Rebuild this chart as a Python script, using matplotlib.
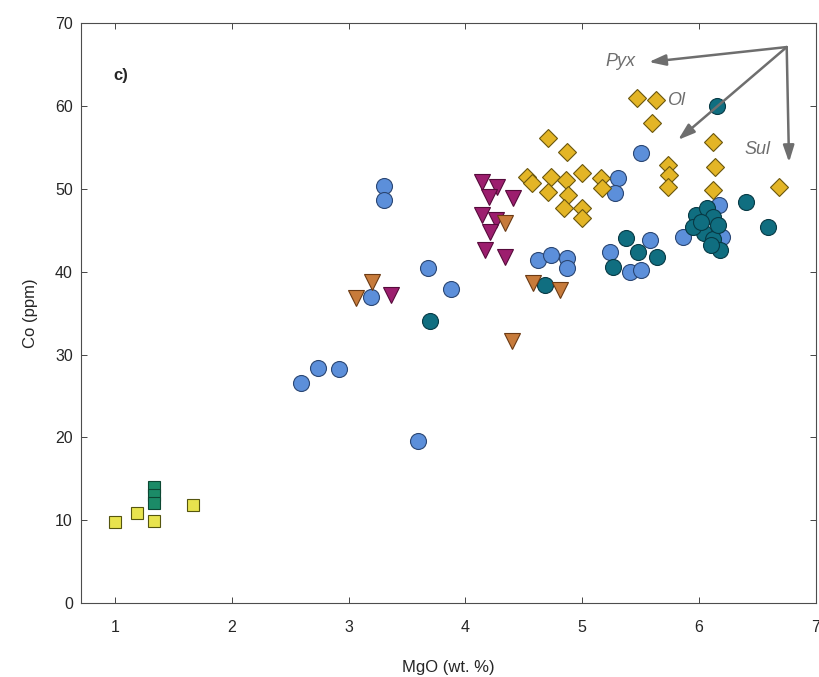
import matplotlib
matplotlib.use("Agg")
import matplotlib.pyplot as plt

plt.rcParams['font.family'] = ['Liberation Sans', 'DejaVu Sans']

# light blue circles
lb_mgo = [2.59, 2.74, 2.92, 3.30, 3.30, 3.19, 3.68, 3.88, 3.59, 5.50, 5.31, 5.28,
          4.62, 4.73, 4.87, 4.87, 5.24, 5.58, 5.41, 5.50, 5.86, 6.20, 6.17]
lb_co = [26.6, 28.4, 28.2, 50.3, 48.6, 36.9, 40.4, 37.9, 19.6, 54.3, 51.3, 49.5,
         41.4, 42.0, 41.6, 40.4, 42.4, 43.8, 40.0, 40.2, 44.2, 44.2, 48.0]

# dark teal circles
dt_mgo = [6.15, 6.40, 6.59, 5.97, 6.07, 6.12, 6.04, 6.12, 6.18, 6.16, 5.95,
          5.37, 5.26, 5.48, 5.64, 3.70, 4.68, 6.02, 6.10]
dt_co = [60.0, 48.4, 45.4, 46.8, 47.7, 46.6, 44.7, 44.0, 42.6, 45.6, 45.4,
         44.1, 40.6, 42.4, 41.8, 34.0, 38.4, 46.0, 43.2]

# gold diamonds
gd_mgo = [5.47, 5.63, 5.60, 6.12, 6.14, 6.12, 6.68, 5.73, 5.74, 5.73,
          4.71, 4.87, 4.53, 4.57, 4.73, 4.86, 4.71, 4.88, 4.84, 5.00, 5.00, 5.00,
          5.16, 5.17]
gd_co = [60.9, 60.7, 57.9, 55.6, 52.6, 49.8, 50.2, 52.9, 51.7, 50.2,
         56.1, 54.4, 51.4, 50.7, 51.4, 51.0, 49.6, 49.2, 47.7, 51.9, 47.7, 46.5,
         51.3, 50.1]

# magenta triangles
mg_mgo = [4.14, 4.27, 4.20, 4.41, 4.14, 4.26, 4.21, 4.17, 4.34, 3.36]
mg_co = [50.8, 50.2, 49.0, 48.9, 46.8, 46.2, 44.8, 42.6, 41.8, 37.2]

# orange triangles
or_mgo = [3.20, 3.06, 4.34, 4.40, 4.58, 4.81]
or_co = [38.7, 36.8, 45.9, 31.6, 38.6, 37.8]

# yellow and green squares
ys_mgo = [1.00, 1.19, 1.33, 1.67]
ys_co = [9.8, 10.9, 9.9, 11.8]
gs_mgo = [1.33, 1.33, 1.33]
gs_co = [14.0, 13.0, 12.1]

fig = plt.figure(figsize=(8.2, 6.77), dpi=100)
ax = fig.add_axes([0.099, 0.109, 0.896, 0.857])

kw = dict(linestyle='none', markeredgewidth=0.8)
ax.plot(ys_mgo, ys_co, marker='s', markersize=8, markerfacecolor='#E8E34E',
        markeredgecolor='#55550F', **kw)
ax.plot(gs_mgo, gs_co, marker='s', markersize=8, markerfacecolor='#1B8B67',
        markeredgecolor='#0C4733', **kw)
ax.plot(lb_mgo, lb_co, marker='o', markersize=11.5, markerfacecolor='#5C8FDA',
        markeredgecolor='#2A4673', **kw)
ax.plot(dt_mgo, dt_co, marker='o', markersize=11.5, markerfacecolor='#106E80',
        markeredgecolor='#083A45', **kw)
ax.plot(gd_mgo, gd_co, marker='D', markersize=9.5, markerfacecolor='#E3B526',
        markeredgecolor='#6A560E', **kw)
ax.plot(mg_mgo, mg_co, marker='v', markersize=12, markerfacecolor='#9C1E6E',
        markeredgecolor='#560B3B', **kw)
ax.plot(or_mgo, or_co, marker='v', markersize=12, markerfacecolor='#C77B3B',
        markeredgecolor='#6B3A14', **kw)

# mineral vectors
origin = (6.75, 67.1)
arrow = dict(arrowstyle='-|>,head_length=1.0,head_width=0.33', color='#6E6E6E',
             lw=1.8, shrinkA=0, shrinkB=0)
for tip in [(5.57, 65.3), (5.82, 55.9), (6.77, 53.2)]:
    ax.annotate('', xy=tip, xytext=origin, arrowprops=arrow)
tkw = dict(color='#6E6E6E', fontsize=13, style='italic', ha='center', va='center')
ax.text(5.33, 65.3, 'Pyx', **tkw)
ax.text(5.80, 60.6, 'Ol', **tkw)
ax.text(6.50, 54.7, 'Sul', **tkw)
ax.text(1.05, 63.7, 'c)', fontsize=12, fontweight='bold', color='#262626',
        ha='center', va='center')

ax.set_xlim(0.71, 7.0)
ax.set_ylim(0, 70)
ax.set_xticks(range(1, 8))
ax.set_yticks(range(0, 71, 10))
ax.tick_params(direction='in', top=True, right=True, length=4, width=0.6,
               labelsize=11.5, colors='#262626')
ax.tick_params(axis='x', pad=12)
ax.tick_params(axis='y', pad=6)
for s in ax.spines.values():
    s.set_color('#4D4D4D')
    s.set_linewidth(0.8)
ax.set_xlabel('MgO (wt. %)', fontsize=12, color='#262626', labelpad=18)
ax.set_ylabel('Co (ppm)', fontsize=12, color='#262626', labelpad=12)

fig.savefig('out.png', dpi=100)
